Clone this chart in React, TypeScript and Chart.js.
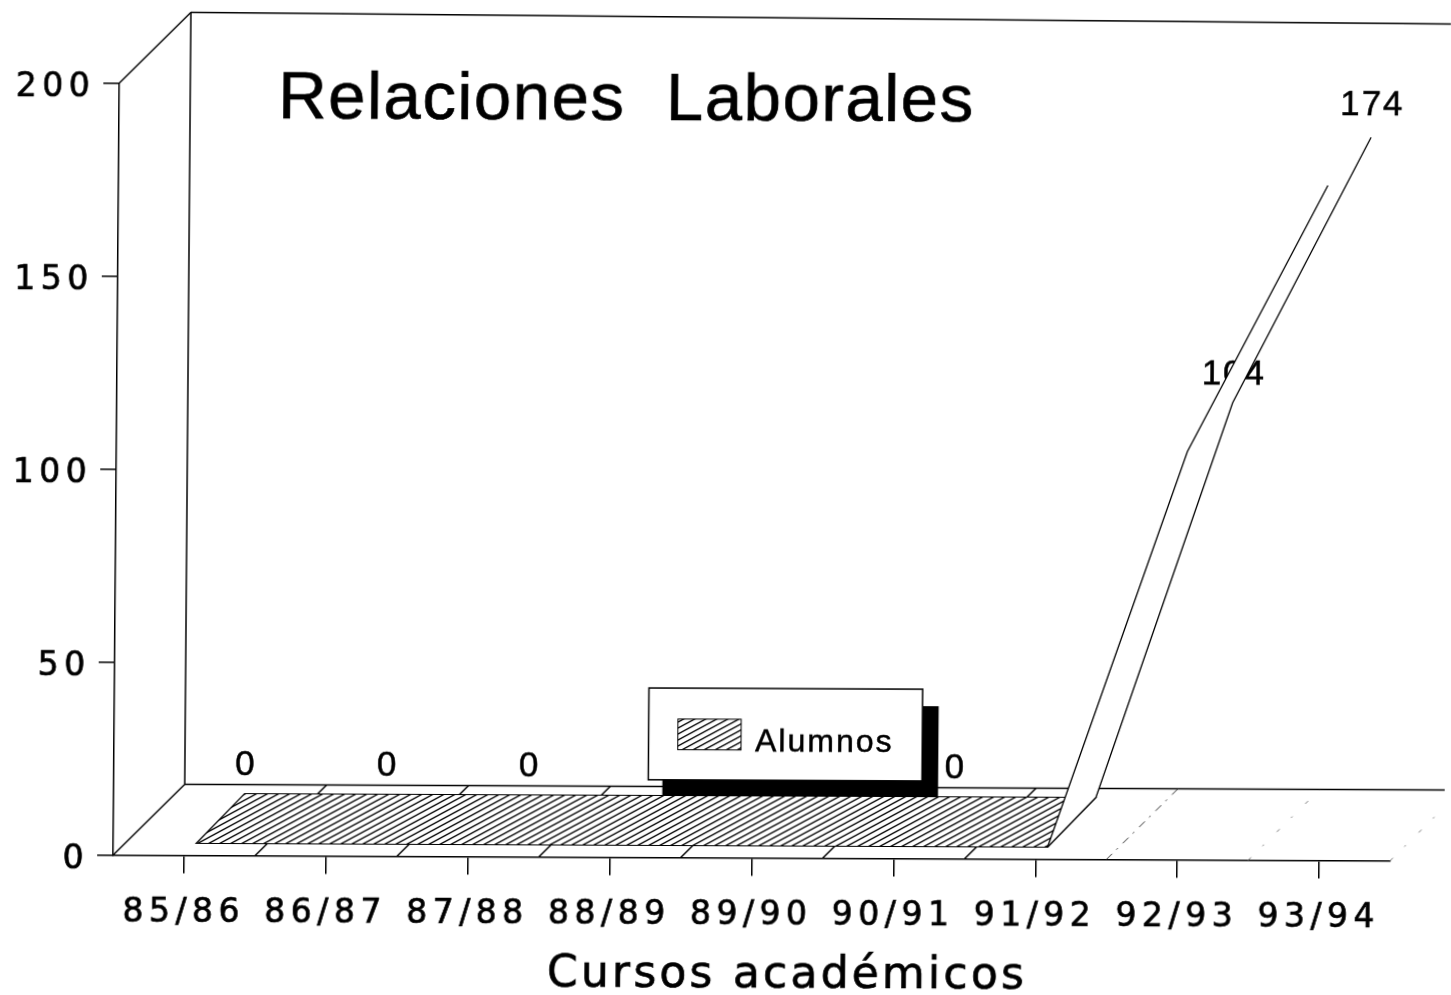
import React, { useEffect, useRef } from "react";
import { Chart, registerables } from "chart.js";

Chart.register(...registerables);

const categories = ["85/86", "86/87", "87/88", "88/89", "89/90", "90/91", "91/92", "92/93", "93/94"];
const alumnos = [0, 0, 0, 0, 0, 0, 0, 104, 174];
const yMin = 0;
const yMax = 200;
const yStep = 50;
const chartTitle = "Relaciones  Laborales";
const xAxisTitle = "Cursos académicos";
const seriesName = "Alumnos";

const SKEW_X = 0.008;
const SKEW_Y = 0.0045;
const INK = "#000";

// reference-picture position -> canvas position (the canvas is skewed like the scan)
const inv = (x: number, y: number): [number, number] => {
  const d = 1 + SKEW_X * SKEW_Y;
  return [(x + SKEW_X * y) / d, (y - SKEW_Y * x) / d];
};

const makeHatch = (ctx: CanvasRenderingContext2D) => {
  const tile = document.createElement("canvas");
  const w = 11;
  const h = 6;
  tile.width = w;
  tile.height = h;
  const c = tile.getContext("2d")!;
  c.strokeStyle = "#000";
  c.lineWidth = 1.35;
  for (let k = -1; k <= 1; k++) {
    c.beginPath();
    c.moveTo(-1, h + k * h + 0.55);
    c.lineTo(w + 1, k * h - 0.55);
    c.stroke();
  }
  return ctx.createPattern(tile, "repeat")!;
};

const line = (ctx: CanvasRenderingContext2D, x0: number, y0: number, x1: number, y1: number) => {
  ctx.beginPath();
  ctx.moveTo(x0, y0);
  ctx.lineTo(x1, y1);
  ctx.stroke();
};

const strokedText = (ctx: CanvasRenderingContext2D, text: string, x: number, y: number, w: number) => {
  ctx.fillText(text, x, y);
  ctx.lineWidth = w;
  ctx.strokeStyle = INK;
  ctx.strokeText(text, x, y);
};

const depthPlugin = {
  id: "depth",
  afterDatasetsUpdate(chart: any) {
    // Shift the two edges of the ribbon into the chart's pseudo-3D depth.
    chart.data.datasets.forEach((ds: any, di: number) => {
      const meta = chart.getDatasetMeta(di);
      meta.data.forEach((pt: any, i: number) => {
        const v = ds.data[i];
        if (di === 0) {
          pt.x += 12 - 0.05 * v;
          pt.y += -12 + 0.05 * v;
        } else {
          pt.x += 60 - 0.08 * v;
          pt.y += -62 + 0.06 * v;
        }
      });
    });
  },
  beforeDraw(chart: any) {
    (chart.ctx as any).letterSpacing = "5.5px";
  },
  beforeDatasetsDraw(chart: any) {
    const ctx: CanvasRenderingContext2D = chart.ctx;
    const { left, right, top, bottom } = chart.chartArea;
    const depth = 71;
    const step = (right - left) / categories.length;
    const front = chart.getDatasetMeta(0).data;
    const back = chart.getDatasetMeta(1).data;
    ctx.save();
    (ctx as any).letterSpacing = "0px";
    ctx.strokeStyle = INK;
    ctx.lineWidth = 1.5;

    // walls and floor
    line(ctx, left, top, left + depth, top - depth);
    line(ctx, left + depth, top - depth, left + depth, bottom - depth);
    line(ctx, left, bottom, left + depth, bottom - depth);
    line(ctx, left + depth, top - depth, 1460, top - depth + 6);
    line(ctx, left + depth, bottom - depth, 1460, bottom - depth);

    // floor divisions
    for (let k = 1; k <= categories.length; k++) {
      const fx = left + k * step;
      ctx.save();
      if (k >= 7) {
        ctx.setLineDash(k === 7 ? [8, 6, 2, 7] : [4, 16, 2, 18]);
        ctx.lineWidth = 1;
        ctx.strokeStyle = k === 7 ? "#333" : "#777";
      }
      line(ctx, fx, bottom, fx + depth, bottom - depth);
      ctx.restore();
    }

    // value labels (the ribbon covers some of them, as in the original)
    ctx.fillStyle = INK;
    ctx.font = "35px 'Liberation Sans'";
    ctx.textAlign = "center";
    ctx.textBaseline = "middle";
    (ctx as any).letterSpacing = "2px";
    alumnos.forEach((v, i) => {
      strokedText(ctx, String(v), back[i].x + 1, back[i].y - 28 - (v > 150 ? 4 : 0), 0.5);
    });
    (ctx as any).letterSpacing = "0px";

    // flat hatched part of the ribbon
    const flat = alumnos.map((v, i) => i).filter((i) => alumnos[i] === 0);
    ctx.beginPath();
    flat.forEach((i, n) => (n ? ctx.lineTo(front[i].x, front[i].y) : ctx.moveTo(front[i].x, front[i].y)));
    [...flat].reverse().forEach((i) => ctx.lineTo(back[i].x, back[i].y));
    ctx.closePath();
    ctx.fillStyle = "#fff";
    ctx.fill();
    ctx.fillStyle = makeHatch(ctx);
    ctx.fill();
    ctx.lineWidth = 1.2;
    ctx.stroke();

    // rising white part of the ribbon
    const last = flat[flat.length - 1];
    const rise: number[] = [];
    for (let i = last; i < alumnos.length; i++) rise.push(i);
    ctx.beginPath();
    rise.forEach((i, n) => (n ? ctx.lineTo(front[i].x, front[i].y) : ctx.moveTo(front[i].x, front[i].y)));
    [...rise].reverse().forEach((i) => ctx.lineTo(back[i].x, back[i].y));
    ctx.closePath();
    ctx.fillStyle = "#fff";
    ctx.fill();
    line(ctx, front[last].x, front[last].y, back[last].x, back[last].y);
    ctx.restore();
  },
  afterDatasetsDraw(chart: any) {
    const ctx: CanvasRenderingContext2D = chart.ctx;
    ctx.save();
    (ctx as any).letterSpacing = "1.6px";
    ctx.fillStyle = INK;
    ctx.textAlign = "left";
    ctx.textBaseline = "alphabetic";

    // title
    ctx.font = "67px 'Liberation Sans'";
    let [tx, ty] = inv(278, 118);
    strokedText(ctx, chartTitle, tx, ty, 0.7);

    // x axis title
    ctx.font = "44px 'DejaVu Sans'";
    (ctx as any).letterSpacing = "3.2px";
    ctx.textAlign = "center";
    [tx, ty] = inv(787, 988);
    strokedText(ctx, xAxisTitle, tx, ty, 0.7);
    (ctx as any).letterSpacing = "0px";
    ctx.textAlign = "left";

    // legend
    const [sx0, sy0] = inv(663, 705);
    const [sx1, sy1] = inv(938, 797);
    ctx.fillStyle = "#000";
    ctx.fillRect(sx0, sy0, sx1 - sx0, sy1 - sy0);
    const [bx0, by0] = inv(649, 688);
    const [bx1, by1] = inv(922, 781);
    ctx.fillStyle = "#fff";
    ctx.fillRect(bx0, by0, bx1 - bx0, by1 - by0);
    ctx.strokeStyle = INK;
    ctx.lineWidth = 1.5;
    ctx.strokeRect(bx0, by0, bx1 - bx0, by1 - by0);
    const [hx0, hy0] = inv(678, 719);
    const [hx1, hy1] = inv(741, 750);
    ctx.fillStyle = makeHatch(ctx);
    ctx.fillRect(hx0, hy0, hx1 - hx0, hy1 - hy0);
    ctx.lineWidth = 1;
    ctx.strokeRect(hx0, hy0, hx1 - hx0, hy1 - hy0);
    ctx.fillStyle = INK;
    ctx.font = "32px 'Liberation Sans'";
    (ctx as any).letterSpacing = "2px";
    [tx, ty] = inv(755, 751);
    strokedText(ctx, seriesName, tx, ty, 0.5);
    ctx.restore();
  },
};

export default function App() {
  const ref = useRef<HTMLCanvasElement>(null);

  useEffect(() => {
    const hide = (c: any) => (c.p0.parsed.y === 0 && c.p1.parsed.y === 0 ? "transparent" : INK);
    const chart = new Chart(ref.current!, {
      type: "line",
      data: {
        labels: categories,
        datasets: [
          {
            label: seriesName,
            data: alumnos,
            borderColor: INK,
            borderWidth: 1.3,
            pointRadius: 0,
            tension: 0,
            fill: false,
            segment: { borderColor: hide },
          },
          {
            label: seriesName + " (fondo)",
            data: alumnos,
            borderColor: INK,
            borderWidth: 1.3,
            pointRadius: 0,
            tension: 0,
            fill: false,
            segment: { borderColor: hide },
          },
        ],
      },
      options: {
        responsive: false,
        animation: false,
        layout: { padding: { top: 82.5, right: 54, left: 0, bottom: 0 } },
        plugins: { legend: { display: false }, title: { display: false }, tooltip: { enabled: false } },
        scales: {
          x: {
            type: "category",
            offset: true,
            afterFit: (s: any) => {
              s.height = 995 - 854.5;
            },
            grid: { offset: false, drawOnChartArea: false, tickLength: 18, color: INK, lineWidth: 1.5 },
            border: { color: INK, width: 1.5 },
            ticks: {
              color: INK,
              font: { family: "'DejaVu Sans'", size: 33 },
              padding: 20,
              maxRotation: 0,
              autoSkip: false,
              textStrokeColor: INK,
              textStrokeWidth: 0.7,
            },
          },
          y: {
            min: yMin,
            max: yMax,
            afterFit: (s: any) => {
              s.width = 120;
            },
            grid: { drawOnChartArea: false, tickLength: 16, color: INK, lineWidth: 1.5 },
            border: { color: INK, width: 1.5 },
            ticks: {
              stepSize: yStep,
              color: INK,
              font: { family: "'DejaVu Sans'", size: 33 },
              padding: 8,
              labelOffset: 5,
              textStrokeColor: INK,
              textStrokeWidth: 0.7,
            },
          },
        },
      },
      plugins: [depthPlugin],
    } as any);
    return () => chart.destroy();
  }, []);

  return (
    <div style={{ position: "fixed", inset: 0, overflow: "hidden", background: "#fff" }}>
      <canvas
        ref={ref}
        width={1451}
        height={995}
        style={{
          display: "block",
          position: "absolute",
          left: 0,
          top: 0,
          transformOrigin: "0 0",
          transform: `matrix(1, ${SKEW_Y}, ${-SKEW_X}, 1, 0, 0)`,
        }}
      />
    </div>
  );
}
